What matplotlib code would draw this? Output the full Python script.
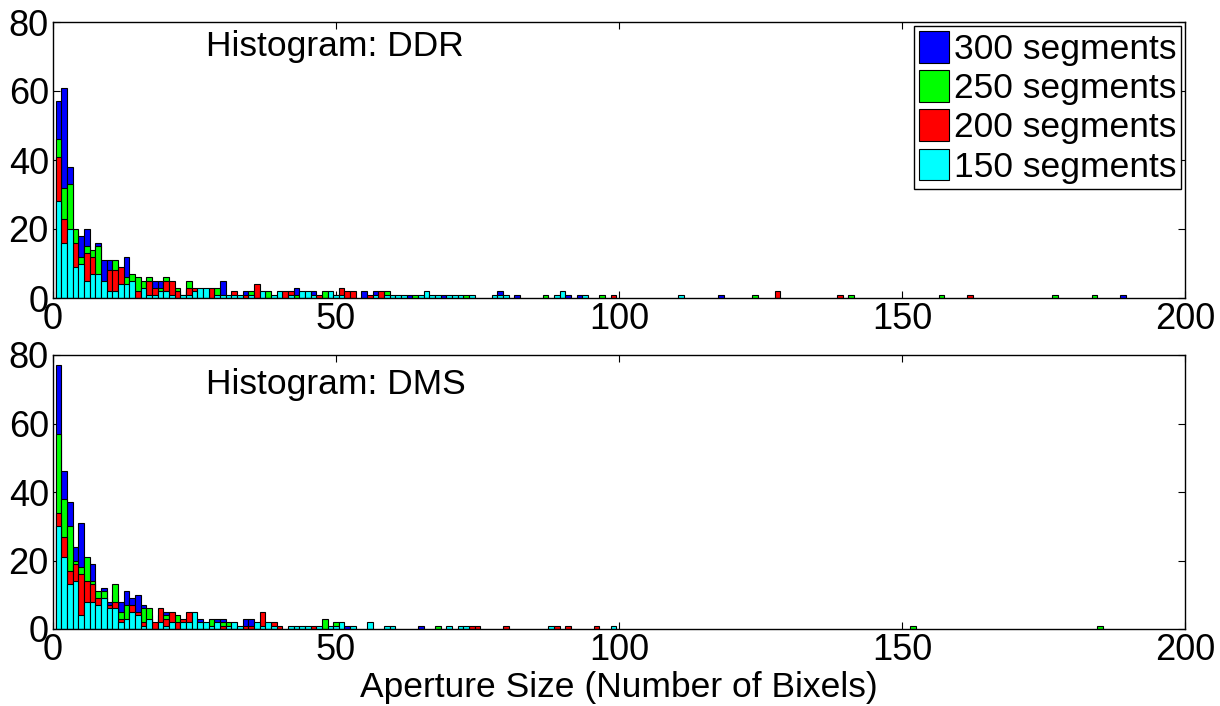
import numpy as np
import matplotlib
matplotlib.use("Agg")
import matplotlib.pyplot as plt
from matplotlib.patches import Patch

plt.rcParams['font.family'] = ['Liberation Sans', 'DejaVu Sans']

series_labels = ['300 segments', '250 segments', '200 segments', '150 segments']
series_colors = ['#0000ff', '#00ff00', '#ff0000', '#00ffff']
panel_titles = ['Histogram: DDR', 'Histogram: DMS']
x_label = 'Aperture Size (Number of Bixels)'
x_ticks = [0, 50, 100, 150, 200]
y_ticks = [0, 20, 40, 60, 80]

# counts for bins 1..100 (aperture size in bixels)
ddr_300 = [57, 61, 38, 19, 18, 20, 13, 16, 11, 11, 10, 6, 12, 4, 3, 2, 4, 5, 5, 3,
           2, 1, 1, 2, 0, 2, 0, 0, 2, 5, 0, 0, 0, 2, 0, 0, 1, 0, 0, 1,
           0, 0, 3, 0, 0, 2, 0, 0, 0, 1, 0, 0, 0, 0, 2, 0, 2, 0, 0, 0,
           0, 0, 1, 0, 0, 0, 0, 0, 1, 0, 0, 0, 0, 0, 0, 0, 0, 0, 2, 0,
           0, 1, 0, 0, 0, 0, 0, 0, 0, 0, 1, 0, 1, 0, 0, 0, 0, 0, 0, 0]
ddr_250 = [46, 32, 33, 20, 12, 15, 14, 15, 4, 7, 11, 5, 6, 7, 6, 5, 6, 2, 3, 6,
           3, 3, 0, 5, 2, 1, 0, 2, 3, 1, 0, 0, 0, 0, 2, 0, 0, 2, 0, 0,
           0, 0, 1, 0, 0, 0, 0, 2, 0, 0, 0, 0, 0, 0, 0, 0, 0, 0, 2, 0,
           0, 0, 0, 1, 0, 0, 0, 0, 0, 0, 0, 0, 1, 0, 0, 0, 0, 0, 0, 0,
           0, 0, 0, 0, 0, 0, 1, 0, 0, 0, 0, 0, 0, 0, 0, 0, 1, 0, 0, 0]
ddr_200 = [41, 23, 18, 16, 9, 13, 12, 6, 3, 8, 8, 9, 3, 3, 2, 2, 5, 3, 1, 5,
           5, 2, 0, 3, 3, 0, 2, 3, 0, 0, 0, 2, 0, 1, 0, 4, 0, 0, 0, 0,
           2, 2, 0, 0, 0, 0, 1, 0, 1, 0, 3, 2, 2, 0, 0, 1, 0, 2, 0, 0,
           0, 0, 0, 0, 0, 0, 0, 0, 0, 0, 0, 0, 0, 0, 0, 0, 0, 0, 0, 0,
           0, 0, 0, 0, 0, 0, 0, 0, 0, 0, 0, 0, 0, 0, 0, 0, 0, 0, 1, 0]
ddr_150 = [28, 16, 20, 9, 10, 5, 7, 7, 5, 2, 2, 4, 4, 5, 0, 3, 1, 1, 2, 2,
           1, 0, 1, 1, 2, 3, 3, 0, 1, 1, 1, 1, 1, 0, 1, 0, 2, 0, 1, 2,
           0, 1, 0, 2, 2, 1, 0, 0, 2, 1, 1, 0, 0, 0, 0, 0, 1, 0, 1, 1,
           1, 1, 0, 0, 1, 2, 1, 1, 0, 1, 1, 1, 0, 1, 0, 0, 0, 1, 1, 1,
           0, 0, 0, 0, 0, 0, 0, 0, 1, 2, 0, 0, 0, 1, 0, 0, 0, 0, 0, 0]
# sparse tails beyond 100 bixels
ddr_300_tail_bins, ddr_300_tail_counts = [118, 189], [1, 1]
ddr_250_tail_bins, ddr_250_tail_counts = [124, 141, 157, 177, 184], [1, 1, 1, 1, 1]
ddr_200_tail_bins, ddr_200_tail_counts = [128, 139, 162], [2, 1, 1]
ddr_150_tail_bins, ddr_150_tail_counts = [111], [1]

dms_300 = [77, 46, 37, 24, 31, 20, 19, 10, 12, 8, 10, 8, 11, 9, 10, 7, 4, 1, 3, 5,
           3, 2, 1, 2, 3, 3, 1, 1, 3, 3, 1, 0, 0, 3, 3, 0, 0, 0, 0, 0,
           0, 0, 0, 0, 0, 0, 0, 0, 0, 0, 0, 1, 0, 0, 0, 0, 0, 0, 0, 0,
           0, 0, 0, 0, 1, 0, 0, 0, 0, 0, 0, 0, 0, 0, 0, 0, 0, 0, 0, 0,
           0, 0, 0, 0, 0, 0, 0, 0, 0, 0, 0, 0, 0, 0, 0, 0, 0, 0, 0, 0]
dms_250 = [57, 38, 30, 20, 18, 21, 14, 11, 11, 5, 13, 5, 7, 6, 4, 6, 6, 1, 4, 4,
           2, 4, 2, 3, 2, 1, 1, 3, 2, 2, 2, 0, 0, 0, 0, 0, 0, 0, 0, 0,
           0, 0, 0, 0, 0, 0, 0, 3, 0, 2, 0, 0, 0, 0, 0, 0, 0, 0, 0, 0,
           0, 0, 0, 0, 0, 0, 0, 1, 0, 0, 0, 0, 0, 0, 0, 0, 0, 0, 0, 0,
           0, 0, 0, 0, 0, 0, 0, 0, 0, 0, 0, 0, 0, 0, 0, 0, 0, 0, 0, 0]
dms_200 = [34, 27, 17, 19, 16, 14, 13, 9, 8, 7, 8, 3, 2, 7, 5, 2, 2, 2, 6, 3,
           5, 2, 3, 5, 1, 1, 0, 0, 1, 1, 1, 0, 0, 1, 1, 0, 5, 0, 2, 1,
           0, 0, 0, 0, 0, 1, 0, 0, 0, 0, 0, 0, 0, 0, 0, 0, 0, 0, 0, 0,
           0, 0, 0, 0, 0, 0, 0, 0, 0, 0, 0, 0, 0, 1, 1, 0, 0, 0, 0, 1,
           0, 0, 0, 0, 0, 0, 0, 0, 1, 0, 1, 0, 0, 0, 0, 1, 0, 0, 0, 0]
dms_150 = [30, 21, 13, 14, 4, 8, 8, 7, 9, 6, 6, 2, 3, 5, 4, 1, 3, 0, 2, 1,
           2, 0, 2, 2, 5, 2, 2, 1, 2, 0, 1, 2, 1, 0, 0, 2, 1, 2, 1, 0,
           0, 1, 1, 1, 1, 0, 1, 0, 1, 1, 2, 0, 1, 0, 0, 2, 0, 0, 1, 1,
           0, 0, 0, 0, 0, 0, 0, 0, 0, 1, 0, 1, 1, 0, 0, 0, 0, 0, 0, 0,
           0, 0, 0, 0, 0, 0, 0, 1, 0, 0, 0, 0, 0, 0, 0, 0, 0, 0, 1, 0]
dms_300_tail_bins, dms_300_tail_counts = [], []
dms_250_tail_bins, dms_250_tail_counts = [152, 185], [1, 1]
dms_200_tail_bins, dms_200_tail_counts = [], []
dms_150_tail_bins, dms_150_tail_counts = [], []

panels = [
    [(ddr_300, ddr_300_tail_bins, ddr_300_tail_counts),
     (ddr_250, ddr_250_tail_bins, ddr_250_tail_counts),
     (ddr_200, ddr_200_tail_bins, ddr_200_tail_counts),
     (ddr_150, ddr_150_tail_bins, ddr_150_tail_counts)],
    [(dms_300, dms_300_tail_bins, dms_300_tail_counts),
     (dms_250, dms_250_tail_bins, dms_250_tail_counts),
     (dms_200, dms_200_tail_bins, dms_200_tail_counts),
     (dms_150, dms_150_tail_bins, dms_150_tail_counts)],
]

fig = plt.figure(figsize=(12.2, 7.06), dpi=100)
ax_top = fig.add_axes([53 / 1220, 1 - 298 / 706, 1132 / 1220, 276 / 706])
ax_bot = fig.add_axes([53 / 1220, 1 - 629 / 706, 1132 / 1220, 274 / 706])
axes = [ax_top, ax_bot]
title_y = [73, 71.5]

for ax, data, title, ty in zip(axes, panels, panel_titles, title_y):
    for (dense, tb, tc), color in zip(data, series_colors):
        bins = np.concatenate([np.arange(1, len(dense) + 1), np.array(tb, dtype=float)])
        counts = np.concatenate([np.array(dense, dtype=float), np.array(tc, dtype=float)])
        m = counts > 0
        ax.bar(bins[m], counts[m], width=1.0, color=color, edgecolor='black',
               linewidth=0.8, align='center', zorder=2)
    ax.set_xlim(0, 200)
    ax.set_ylim(0, 80)
    ax.set_xticks(x_ticks)
    ax.set_yticks(y_ticks)
    ax.tick_params(direction='in', top=True, right=True, length=5, width=0.8,
                   labelsize=26, pad=3)
    for s in ax.spines.values():
        s.set_linewidth(1.0)
    ax.text(27, ty, title, fontsize=25.5, va='center', ha='left')

handles = [Patch(facecolor=c, edgecolor='black', linewidth=0.8) for c in series_colors]
leg = ax_top.legend(handles, series_labels, loc='upper right', fontsize=25.5,
                    frameon=True, fancybox=False, framealpha=1, edgecolor='black',
                    handlelength=0.85, handleheight=1.0, handletextpad=0.12,
                    borderpad=0.15, labelspacing=0.12, borderaxespad=0.1)
leg.get_frame().set_linewidth(1.0)

ax_bot.set_xlabel(x_label, fontsize=25.5, labelpad=2)

fig.savefig('out.png', dpi=100)
